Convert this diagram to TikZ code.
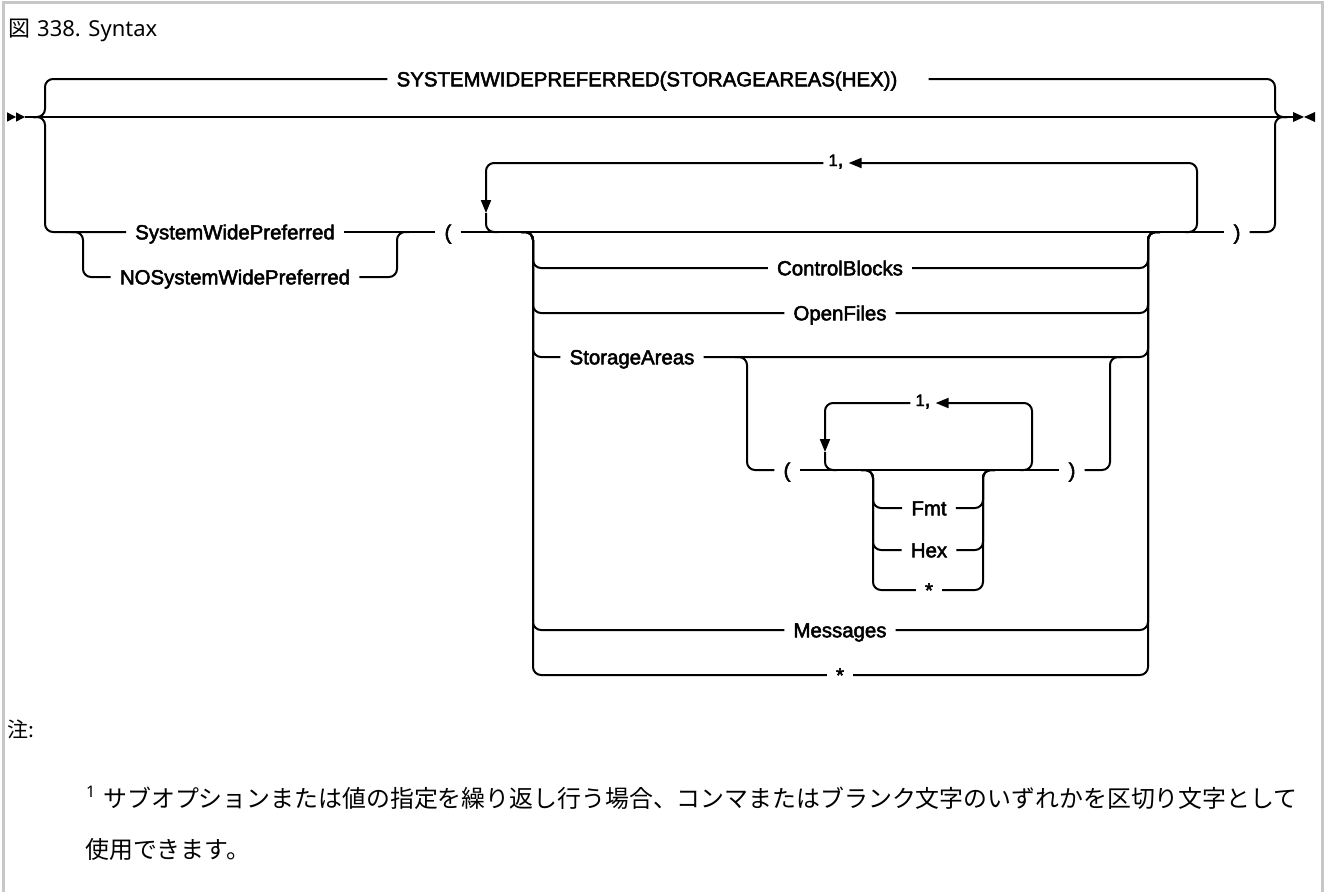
\documentclass[tikz,border=0pt]{standalone}
\usepackage{fontspec}
\setmainfont{Liberation Sans}
\newfontfamily\railfont{Liberation Sans}[FakeBold=2.5]
\newfontfamily\cjkfont{Noto Sans CJK JP}
\newfontfamily\titlefont{Noto Sans}
\usetikzlibrary{positioning,arrows.meta}

\begin{document}
\begin{tikzpicture}[
    x=1pt, y=-1pt,
    every node/.style={inner sep=0pt},
    frame/.style={draw=black!22, line width=3pt},
    rail/.style={line width=2pt, rounded corners=8pt},
    kw/.style={font=\railfont\fontsize{20.4}{24}\selectfont, text height=14.6pt, text depth=0pt, inner xsep=9pt},
    rep/.style={font=\railfont\fontsize{20.4}{24}\selectfont, text height=6pt, text depth=0pt, inner xsep=5pt},
    tip/.style={-{Triangle[length=13pt,width=10pt]}},
    note/.style={font=\cjkfont\fontsize{23.9}{28}\selectfont, anchor=base west}
]
\useasboundingbox (0,0) rectangle (1326,892);
\draw[frame] (3,895) -- (3,2) -- (1322,2) -- (1322,895);
\node[anchor=base west, font=\titlefont\fontsize{22}{26}\selectfont] (title) at (8,36) {{\cjkfont 図}\hspace{7pt}338. Syntax};

\coordinate (start) at (25,117);
\coordinate (stop) at (1293,117);
\fill (start) -- ++(-9,-4.7) -- ++(0,9.4) -- cycle;
\fill ([xshift=-9pt]start) -- ++(-9,-4.7) -- ++(0,9.4) -- cycle;
\fill (stop) ++(0,-5) -- ++(11,5) -- ++(-11,5) -- cycle;
\fill (stop) ++(22,-5) -- ++(-11,5) -- ++(11,5) -- cycle;
\draw[rail] (start) -- (stop);

\node[kw] (dflt) at (647,79) {SYSTEMWIDEPREFERRED(STORAGEAREAS(HEX))};
\coordinate (jl) at (45,117);
\coordinate (jr) at (1275,117);
\draw[rail] ([xshift=-12pt]jl) -- (jl) |- (dflt.west);
\draw[rail] ([xshift=22pt]dflt.east) -| (jr) -- ([xshift=12pt]jr);

\node[kw] (swp) at (235,232) {SystemWidePreferred};
\node[kw] (noswp) at (235,277) {NOSystemWidePreferred};
\coordinate (sl) at (83,232);
\coordinate (sr) at (397,232);
\node[kw] (lpar) at (448,232) {(};
\node[kw] (rpar) at (1237,232) {)};
\draw[rail] ([xshift=-12pt]jl) -- (jl) |- (swp.west);
\draw[rail] ([xshift=-12pt]sl) -- (sl) |- (noswp.west);
\draw[rail] (swp.east) -- (lpar.west);
\draw[rail] (noswp.east) -| (sr) -- ([xshift=12pt]sr);
\draw[rail] (lpar.east) -- (rpar.west);
\draw[rail] (rpar.east) -| (jr) -- ([xshift=12pt]jr);

\coordinate (ll) at (486,232);
\coordinate (lr) at (1197,232);
\coordinate (ld) at (486,213);
\node[rep] (rep1) at (836,163) {{\fontsize{16.5}{16}\selectfont 1},};
\draw[rail,tip] ([xshift=-12pt]lr) -- (lr) |- (rep1.east);
\draw[rail,tip] (rep1.west) -| (ld);
\draw[rail] (ld) -- (ll) -- ([xshift=12pt]ll);

\coordinate (cl) at (533,232);
\coordinate (cr) at (1148,232);
\node[kw] (cb) at (840,268) {ControlBlocks};
\node[kw] (of) at (840,313) {OpenFiles};
\node[kw] (sa) at (632,357) {StorageAreas};
\node[kw] (msg) at (840,630) {Messages};
\node[kw] (all) at (840,675) {*};
\foreach \n in {cb,of,sa,msg,all} {
  \draw[rail] ([xshift=-12pt]cl) -- (cl) |- (\n.west);
  \draw[rail] (\n.east) -| (cr) -- ([xshift=12pt]cr);
}

\coordinate (sl2) at (747,357);
\coordinate (sr2) at (1110,357);
\node[kw] (lpar2) at (787,470) {(};
\node[kw] (rpar2) at (1072,470) {)};
\draw[rail] ([xshift=-12pt]sl2) -- (sl2) |- (lpar2.west);
\draw[rail] (lpar2.east) -- (rpar2.west);
\draw[rail] (rpar2.east) -| (sr2) -- ([xshift=12pt]sr2);

\coordinate (il) at (825,470);
\coordinate (ir) at (1032,470);
\coordinate (id) at (825,452);
\node[rep] (rep2) at (923,403) {{\fontsize{16.5}{16}\selectfont 1},};
\draw[rail,tip] ([xshift=-12pt]ir) -- (ir) |- (rep2.east);
\draw[rail,tip] (rep2.west) -| (id);
\draw[rail] (id) -- (il) -- ([xshift=12pt]il);

\coordinate (fl) at (873,470);
\coordinate (fr) at (983,470);
\node[kw] (fmt) at (929,508) {Fmt};
\node[kw] (hex) at (929,550) {Hex};
\node[kw] (star) at (929,590) {*};
\foreach \n in {fmt,hex,star} {
  \draw[rail] ([xshift=-12pt]fl) -- (fl) |- (\n.west);
  \draw[rail] (\n.east) -| (fr) -- ([xshift=12pt]fr);
}

\node[note, font=\cjkfont\fontsize{21}{24}\selectfont] (notes) at (7,737) {注:};
\node[note] (fn1) at (86,807) {{\titlefont\fontsize{16}{16}\selectfont\raisebox{10pt}{1}}\hspace{8pt}サブオプションまたは値の指定を繰り返し行う場合、コンマまたはブランク文字のいずれかを区切り文字として};
\node[note] (fn2) at (85,858) {使用できます。};
\end{tikzpicture}
\end{document}
